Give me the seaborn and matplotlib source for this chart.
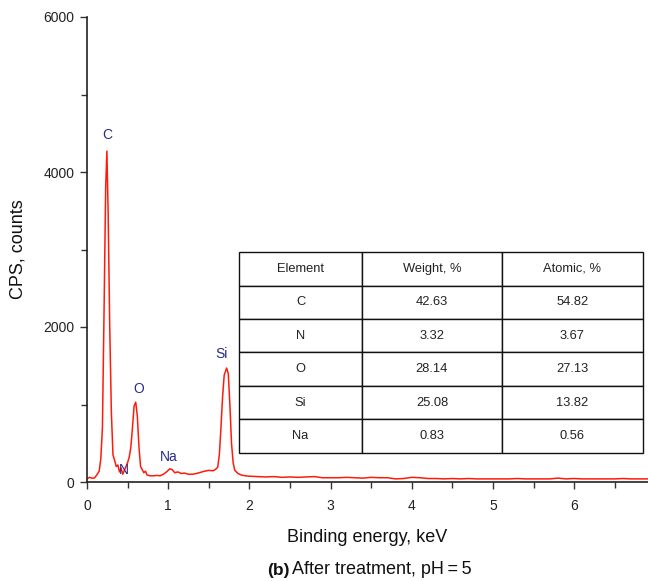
import matplotlib
matplotlib.use("Agg")
import matplotlib.pyplot as plt
import seaborn as sns
import pandas as pd

# Spectrum
energy_kev = [0.00, 0.03, 0.06, 0.09, 0.12, 0.15, 0.17, 0.19, 0.21, 0.23, 0.245, 0.26, 0.28, 0.30,
              0.32, 0.34, 0.36, 0.38, 0.40, 0.42, 0.44, 0.46, 0.48, 0.50, 0.52, 0.54, 0.56, 0.58,
              0.60, 0.62, 0.64, 0.66, 0.68, 0.70, 0.72, 0.74, 0.78, 0.82, 0.86, 0.90, 0.94, 0.98,
              1.02, 1.05, 1.08, 1.12, 1.16, 1.20, 1.25, 1.30, 1.35, 1.40, 1.45, 1.50, 1.55, 1.58,
              1.61, 1.63, 1.65, 1.67, 1.69, 1.72, 1.74, 1.76, 1.78, 1.80, 1.82, 1.86, 1.90, 1.95,
              2.0, 2.1, 2.2, 2.3, 2.4, 2.5, 2.6, 2.7, 2.8, 2.9, 3.0, 3.1, 3.2, 3.3, 3.4, 3.5, 3.6,
              3.7, 3.8, 3.9, 4.0, 4.1, 4.2, 4.3, 4.4, 4.5, 4.6, 4.7, 4.8, 4.9, 5.0, 5.1, 5.2, 5.3,
              5.4, 5.5, 5.6, 5.7, 5.8, 5.9, 6.0, 6.1, 6.2, 6.3, 6.4, 6.5, 6.6, 6.7, 6.8, 6.95]
cps_counts = [40, 60, 50, 50, 90, 140, 300, 700, 2200, 3800, 4270, 3500, 2000, 900,
              350, 280, 200, 220, 130, 180, 100, 150, 200, 250, 320, 450, 700, 980,
              1030, 850, 450, 200, 160, 120, 140, 90, 80, 80, 85, 80, 100, 130,
              170, 160, 120, 130, 110, 115, 100, 100, 110, 125, 140, 150, 145, 160,
              190, 350, 700, 1100, 1380, 1470, 1400, 1000, 500, 250, 150, 110, 90, 80,
              75, 70, 65, 70, 60, 65, 60, 65, 70, 55, 55, 55, 60, 55, 50, 60, 55,
              55, 40, 45, 60, 55, 45, 45, 40, 45, 40, 45, 40, 40, 40, 40, 40, 45,
              40, 40, 40, 40, 50, 40, 45, 40, 40, 40, 40, 40, 45, 40, 40, 40]

# Peak labels
peak_names = ["C", "N", "O", "Na", "Si"]
peak_x = [0.25, 0.45, 0.64, 1.01, 1.66]
peak_y = [4477, 155, 1200, 323, 1652]

# Table
table_header = ["Element", "Weight, %", "Atomic, %"]
table_elements = ["C", "N", "O", "Si", "Na"]
table_weight = ["42.63", "3.32", "28.14", "25.08", "0.83"]
table_atomic = ["54.82", "3.67", "27.13", "13.82", "0.56"]

sns.set_style("ticks")
plt.rcParams['font.family'] = ['Liberation Sans', 'DejaVu Sans']

fig = plt.figure(figsize=(6.48, 5.81), dpi=100)
ax = fig.add_axes([87/648, 1 - 482/581, 561/648, 465/581])

df = pd.DataFrame({"energy": energy_kev, "cps": cps_counts})
sns.lineplot(data=df, x="energy", y="cps", ax=ax, color="#ff1a0a", linewidth=1.1,
             estimator=None, sort=False)

ax.set_xlim(0, 6.91)
ax.set_ylim(0, 6000)
ax.set_xticks([0, 1, 2, 3, 4, 5, 6])
ax.set_xticks([0.5, 1.5, 2.5, 3.5, 4.5, 5.5, 6.5], minor=True)
ax.set_yticks([0, 2000, 4000, 6000])
ax.set_yticks([1000, 3000, 5000], minor=True)
ax.tick_params(axis="both", which="major", length=5, width=1, labelsize=10, color="#333333",
               labelcolor="#222222")
ax.tick_params(axis="x", which="major", pad=7)
ax.tick_params(axis="y", which="major", pad=4)
ax.tick_params(axis="both", which="minor", length=4, width=1, color="#333333")
sns.despine(ax=ax)
for s in ["left", "bottom"]:
    ax.spines[s].set_color("#222222")
    ax.spines[s].set_linewidth(1.2)

ax.set_xlabel("Binding energy, keV", fontsize=13, labelpad=12, color="#111111")
ax.set_ylabel("CPS, counts", fontsize=13, color="#111111")
ax.yaxis.set_label_coords(-0.108, 0.5)

for n, x, y in zip(peak_names, peak_x, peak_y):
    ax.text(x, y, n, color="#2a2a8a", fontsize=10, ha="center", va="center")

cells = [[e, w, a] for e, w, a in zip(table_elements, table_weight, table_atomic)]
tbl = ax.table(cellText=cells, colLabels=table_header, cellLoc="center",
               colWidths=[123, 140, 141],
               bbox=[0.271, 0.0624, 0.720, 0.4322], zorder=5)
tbl.auto_set_font_size(False)
tbl.set_fontsize(9.3)
for (r, c), cell in tbl.get_celld().items():
    cell.set_edgecolor("#111111")
    cell.set_linewidth(1.0)
    cell.set_facecolor("white")
    cell.get_text().set_color("#222222")

fig.text(267/648, 1 - 570/581, "(b)", ha="left", va="center", fontsize=12.5,
         fontweight="bold", color="#111111")
fig.text(292/648, 1 - 570/581, "After treatment, pH\u2009=\u20095", ha="left", va="center",
         fontsize=13, color="#111111")

fig.savefig("out.png", dpi=100)
